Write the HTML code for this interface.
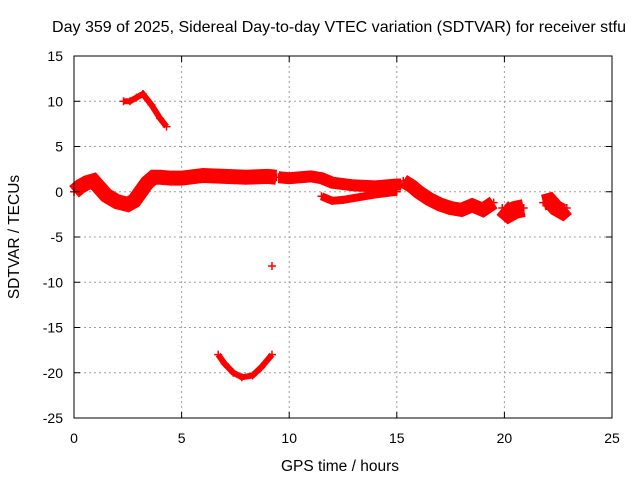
<!DOCTYPE html>
<html><head><meta charset="utf-8"><style>
body{margin:0;background:#fff}
svg{display:block;font-family:"Liberation Sans",sans-serif}
</style></head><body>
<svg id="chart" width="640" height="480" viewBox="0 0 640 480">
<text x="339" y="32" font-size="16" text-anchor="middle" textLength="574" lengthAdjust="spacingAndGlyphs">Day 359 of 2025, Sidereal Day-to-day VTEC variation (SDTVAR) for receiver stfu</text>
<g id="grid"></g>
<g id="marks"></g>
<rect x="74" y="56" width="538" height="362" fill="none" stroke="#000" stroke-width="1"/>
<g id="ticks"></g>
<text x="340" y="471" font-size="15.5" text-anchor="middle">GPS time / hours</text>
<text transform="translate(19,237) rotate(-90)" font-size="15.5" text-anchor="middle">SDTVAR / TECUs</text>
</svg>
<script>
const xTicks=[0,5,10,15,20,25];
const yTicks=[15,10,5,0,-5,-10,-15,-20,-25];
const mainT=[0,0.3,0.6,0.9,1.2,1.5,2,2.5,2.8,3.1,3.4,3.7,4,4.5,5,6,7,8,9,9.4];
const mainV=[0,0.6,1.0,1.2,0.4,-0.4,-1.1,-1.4,-1.0,0,1.0,1.6,1.6,1.5,1.5,1.8,1.7,1.6,1.7,1.6];
const main2T=[9.5,10,11,11.5,12,13,14,15,15.2];
const main2V=[1.6,1.5,1.7,1.5,1.0,0.7,0.6,0.8,0.8];
const lowT=[11.5,12,12.5,13,14,15];
const lowV=[-0.5,-1.0,-0.9,-0.7,-0.3,0];
const dropT=[15.3,15.7,16,16.5,17,17.5,18,18.5,19,19.5];
const dropV=[1.2,0.6,0,-0.8,-1.4,-1.8,-2.0,-1.5,-2.0,-1.2];
const d20T=[19.9,20.2,20.5,20.9];
const d20V=[-1.8,-2.4,-2.0,-1.8];
const d22T=[21.8,22.1,22.4,22.7,22.9];
const d22V=[-1.2,-1.0,-1.8,-2.2,-1.8];
const topT=[2.3,2.6,2.9,3.2,3.6,4,4.3];
const topV=[10.0,10.0,10.4,10.8,9.6,8.1,7.2];
const botT=[6.7,7.0,7.4,7.8,8.3,8.7,9.2];
const botV=[-18.0,-19.0,-20.0,-20.5,-20.3,-19.4,-18.0];
const outT=[9.2];const outV=[-8.2];
const X=h=>74+h*538/25, Y=v=>56+(15-v)*362/40;
const NS='http://www.w3.org/2000/svg';
const grid=document.getElementById('grid'),ticks=document.getElementById('ticks'),marks=document.getElementById('marks');
function mk(p,tag,a){const e=document.createElementNS(NS,tag);for(const k in a)e.setAttribute(k,a[k]);p.appendChild(e);return e;}
xTicks.forEach(t=>{
 if(t>0&&t<25){const g=mk(grid,'line',{x1:X(t),x2:X(t),y1:56,y2:418,stroke:'#a0a0a0','stroke-dasharray':'2,3'});
 }
 mk(ticks,'line',{x1:X(t),x2:X(t),y1:418,y2:412,stroke:'#000'});mk(ticks,'line',{x1:X(t),x2:X(t),y1:56,y2:62,stroke:'#000'});
 const l=mk(ticks,'text',{x:X(t),y:443,'font-size':14,'text-anchor':'middle'});l.textContent=t;
 
});
yTicks.forEach(t=>{
 if(t<15&&t>-25){const g=mk(grid,'line',{x1:74,x2:612,y1:Y(t),y2:Y(t),stroke:'#a0a0a0','stroke-dasharray':'2,3'});
 }
 mk(ticks,'line',{x1:74,x2:80,y1:Y(t),y2:Y(t),stroke:'#000'});mk(ticks,'line',{x1:606,x2:612,y1:Y(t),y2:Y(t),stroke:'#000'});
 const l=mk(ticks,'text',{x:63,y:Y(t)+5,'font-size':14,'text-anchor':'end'});l.textContent=t;
 
});
function series(T,V,w,name){
 const pts=T.map((t,i)=>X(t)+','+Y(V[i])).join(' ');
 const p=mk(marks,'polyline',{points:pts,fill:'none',stroke:'#f00','stroke-width':w,'stroke-linejoin':'miter','stroke-linecap':'butt'});
 
 
 T.forEach((t,i)=>{const x=X(t),y=Y(V[i]);
  const m=mk(marks,'path',{d:`M${x-4},${y}H${x+4}M${x},${y-4}V${y+4}`,stroke:'#f00','stroke-width':1.5});
  
  });
}
series(mainT,mainV,15,'main-band');
series(main2T,main2V,12,'main-band-2');
series(lowT,lowV,8,'lower-branch');
series(dropT,dropV,14,'drop-band');
series(d20T,d20V,18,'band-20h');
series(d22T,d22V,16,'band-22h');
series(topT,topV,6,'upper-arc');
series(botT,botV,6,'lower-arc');
series(outT,outV,2,'outlier');
</script>
</body></html>
